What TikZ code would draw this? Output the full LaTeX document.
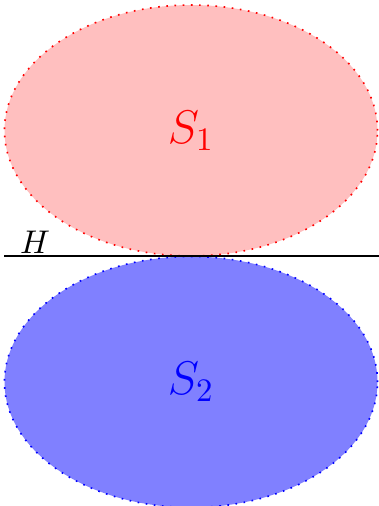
\documentclass[tikz,border=0pt]{standalone}
\usetikzlibrary{shapes.geometric}
\begin{document}
\begin{tikzpicture}[x=0.305pt,y=-0.305pt,
  region/.style={ellipse,inner sep=0pt,minimum width=373*0.305pt,minimum height=251*0.305pt,dotted,line width=0.5pt,font=\Large},
  hline/.style={line width=0.6pt}]
\useasboundingbox (0,0) rectangle (378,506);
\node[region,draw=red,fill=red!25,text=red] (S1) at (191,130.5) {$S_1$};
\node[region,draw=blue,fill=blue!50,text=blue] (S2) at (191,382) {$S_2$};
\coordinate (L) at (4,256);
\coordinate (R) at (380,256);
\draw[hline] (L) -- (R);
\node (H) at (35,242) {$H$};
\end{tikzpicture}
\end{document}
